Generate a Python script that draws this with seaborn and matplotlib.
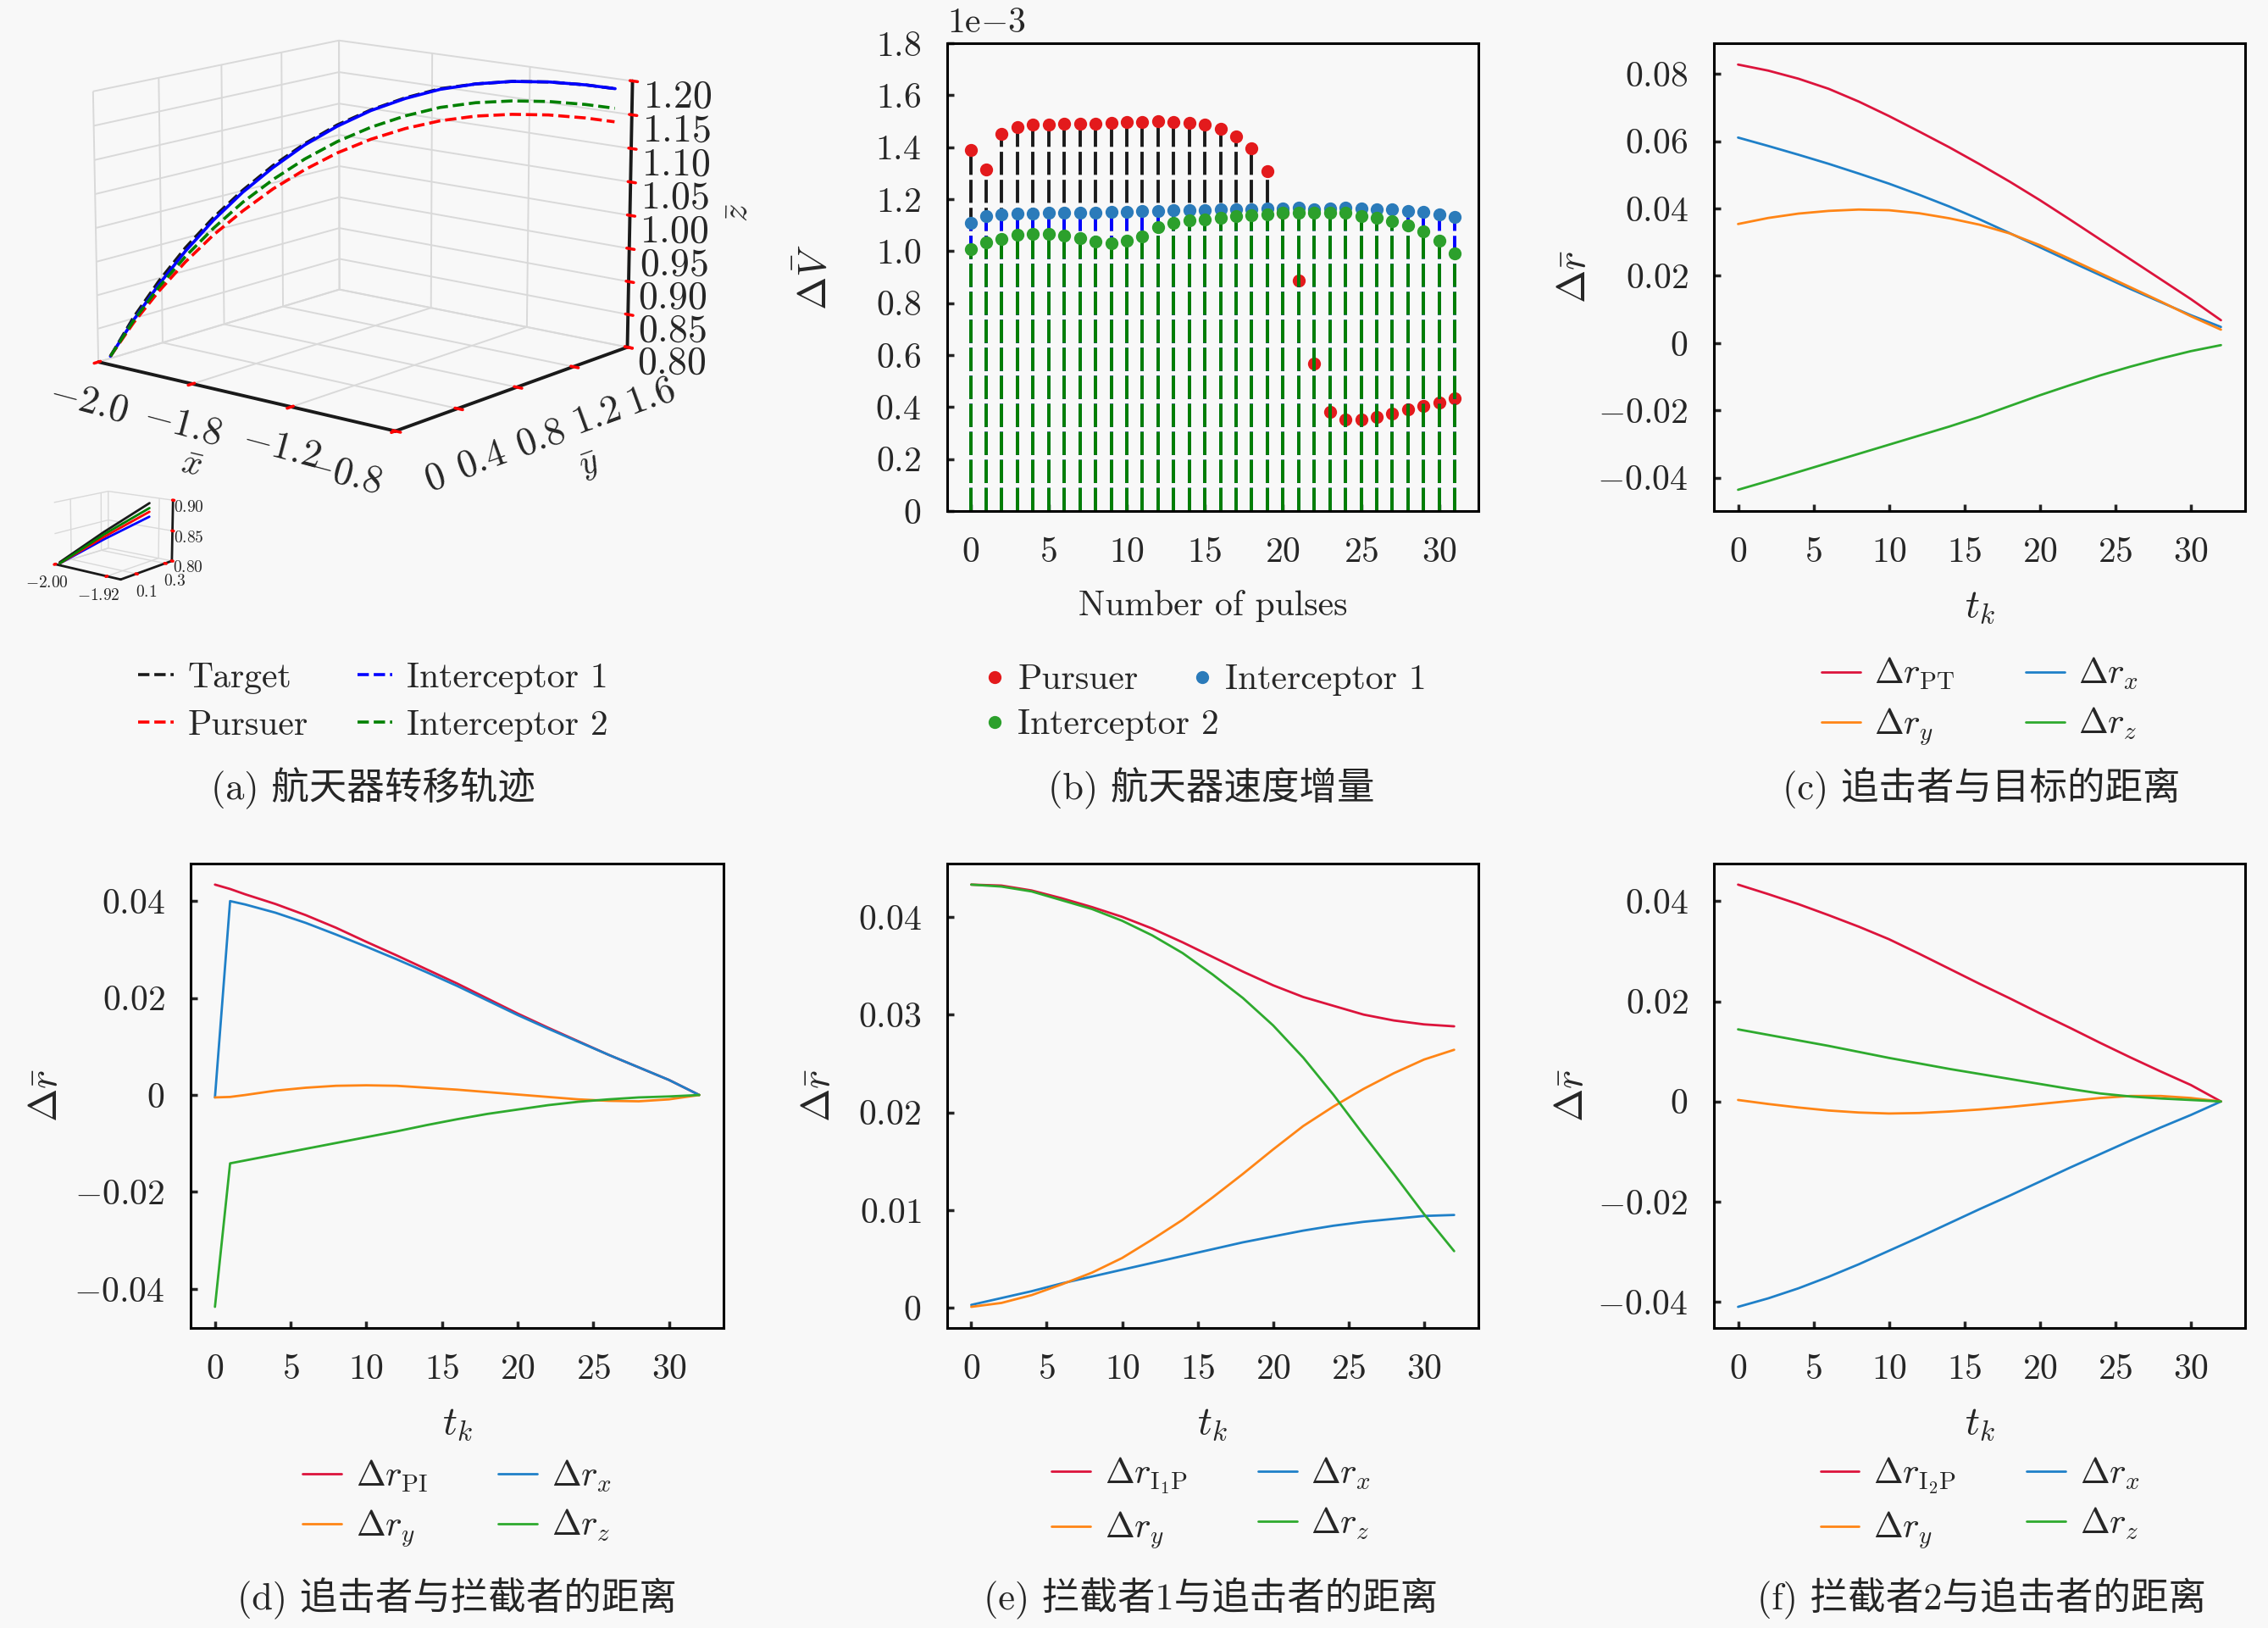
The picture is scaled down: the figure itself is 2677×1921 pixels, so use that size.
import numpy as np
import pandas as pd
import matplotlib
matplotlib.use('Agg')
import matplotlib.pyplot as plt
import matplotlib.colors as mcolors
from matplotlib.lines import Line2D
import seaborn as sns

traj_x = [-1.99, -1.964, -1.931, -1.890, -1.842, -1.788, -1.727, -1.660, -1.587,
          -1.507, -1.422, -1.333, -1.238, -1.139, -1.036, -0.930, -0.84]
traj_y = [0.06, 0.170, 0.282, 0.392, 0.501, 0.609, 0.714, 0.818, 0.918,
          1.015, 1.108, 1.197, 1.282, 1.362, 1.437, 1.505, 1.55]
z_target = [0.805, 0.858, 0.907, 0.953, 0.995, 1.033, 1.068, 1.099, 1.126,
            1.148, 1.166, 1.180, 1.188, 1.193, 1.194, 1.192, 1.189]
z_int1 = [0.805, 0.854, 0.902, 0.948, 0.991, 1.030, 1.065, 1.097, 1.124,
          1.147, 1.165, 1.179, 1.188, 1.193, 1.194, 1.192, 1.189]
z_pursuer = [0.805, 0.850, 0.892, 0.932, 0.969, 1.002, 1.033, 1.060, 1.084,
             1.104, 1.120, 1.132, 1.140, 1.144, 1.145, 1.143, 1.140]
z_int2 = [0.805, 0.853, 0.898, 0.940, 0.979, 1.015, 1.047, 1.076, 1.101,
          1.122, 1.139, 1.152, 1.160, 1.164, 1.165, 1.163, 1.160]

# zoomed inset near the start
ins_x = [-1.998, -1.960, -1.920]
ins_y = [0.02, 0.15, 0.28]
ins_z_target = [0.802, 0.850, 0.896]
ins_z_int1 = [0.800, 0.838, 0.874]
ins_z_pursuer = [0.800, 0.842, 0.882]
ins_z_int2 = [0.800, 0.846, 0.888]

x3_ticks = [-2.0, -1.6, -1.2, -0.8]
x3_labels = ['$-2.0$', '$-1.8$', '$-1.2$', '$-0.8$']
y3_ticks = [0, 0.4, 0.8, 1.2, 1.6]
y3_labels = ['$0$', '$0.4$', '$0.8$', '$1.2$', '$1.6$']
z3_ticks = [0.80, 0.85, 0.90, 0.95, 1.00, 1.05, 1.10, 1.15, 1.20]
z3_labels = ['$%.2f$' % v for v in z3_ticks]

# ---------------- (b) velocity increments (x 1e-3) ----------------
pulse_idx = list(range(32))
dv_pursuer = [1.389, 1.314, 1.450, 1.477, 1.488, 1.488, 1.492, 1.492, 1.492, 1.495,
              1.497, 1.497, 1.500, 1.497, 1.495, 1.488, 1.470, 1.443, 1.396, 1.308,
              1.148, 0.888, 0.569, 0.383, 0.352, 0.352, 0.363, 0.375, 0.393, 0.406,
              0.416, 0.434]
dv_int1 = [1.108, 1.134, 1.142, 1.145, 1.145, 1.148, 1.148, 1.148, 1.148, 1.150,
           1.152, 1.153, 1.154, 1.159, 1.159, 1.159, 1.161, 1.161, 1.161, 1.165,
           1.164, 1.167, 1.161, 1.164, 1.167, 1.163, 1.161, 1.160, 1.154, 1.150,
           1.140, 1.131]
dv_int2 = [1.007, 1.034, 1.047, 1.064, 1.066, 1.066, 1.061, 1.050, 1.037, 1.030,
           1.039, 1.057, 1.091, 1.108, 1.118, 1.122, 1.129, 1.134, 1.138, 1.142,
           1.148, 1.148, 1.148, 1.149, 1.148, 1.136, 1.129, 1.114, 1.098, 1.077,
           1.039, 0.993]
dv_ticks = [0, 0.2, 0.4, 0.6, 0.8, 1.0, 1.2, 1.4, 1.6, 1.8]
dv_labels = ['$0$', '$0.2$', '$0.4$', '$0.6$', '$0.8$', '$1.0$', '$1.2$', '$1.4$', '$1.6$', '$1.8$']

# ---------------- distance panels ----------------
t_even = [0, 2, 4, 6, 8, 10, 12, 14, 16, 18, 20, 22, 24, 26, 28, 30, 32]

# (c) pursuer - target
c_pt = [0.0828, 0.0810, 0.0786, 0.0756, 0.0718, 0.0675, 0.0629, 0.0582, 0.0532,
        0.0480, 0.0425, 0.0367, 0.0308, 0.0249, 0.0190, 0.0131, 0.0068]
c_x = [0.0611, 0.0586, 0.0560, 0.0533, 0.0504, 0.0474, 0.0441, 0.0406, 0.0368,
       0.0327, 0.0285, 0.0243, 0.0202, 0.0161, 0.0122, 0.0083, 0.0048]
c_y = [0.0354, 0.0372, 0.0385, 0.0393, 0.0397, 0.0395, 0.0386, 0.0371, 0.0352,
       0.0326, 0.0291, 0.0250, 0.0208, 0.0166, 0.0124, 0.0080, 0.0040]
c_z = [-0.0436, -0.0410, -0.0383, -0.0356, -0.0329, -0.0302, -0.0275, -0.0248, -0.0219,
       -0.0187, -0.0155, -0.0125, -0.0096, -0.0070, -0.0046, -0.0024, -0.0006]

# (d) pursuer - interceptor
t_d = [0, 1, 2, 4, 6, 8, 10, 12, 14, 16, 18, 20, 22, 24, 26, 28, 30, 32]
d_pi = [0.0434, 0.0425, 0.0414, 0.0394, 0.0371, 0.0345, 0.0316, 0.0288, 0.0259,
        0.0230, 0.0199, 0.0168, 0.0139, 0.0111, 0.0083, 0.0057, 0.0031, 0.0]
d_x = [-0.0005, 0.0400, 0.0393, 0.0376, 0.0355, 0.0331, 0.0306, 0.0280, 0.0253,
       0.0225, 0.0195, 0.0165, 0.0137, 0.0110, 0.0083, 0.0057, 0.0031, 0.0]
d_y = [-0.0005, -0.0004, 0.0000, 0.0009, 0.0015, 0.0019, 0.0020, 0.0019, 0.0015,
       0.0011, 0.0006, 0.0001, -0.0004, -0.0009, -0.0012, -0.0013, -0.0009, 0.0]
d_z = [-0.0437, -0.0141, -0.0135, -0.0123, -0.0111, -0.0099, -0.0087, -0.0075, -0.0062,
       -0.0050, -0.0039, -0.0030, -0.0021, -0.0014, -0.0009, -0.0005, -0.0003, 0.0]

# (e) interceptor 1 - pursuer
e_ip = [0.0433, 0.0432, 0.0427, 0.0419, 0.0410, 0.0400, 0.0388, 0.0374, 0.0359,
        0.0344, 0.0330, 0.0318, 0.0309, 0.0300, 0.0294, 0.0290, 0.0288]
e_x = [0.0003, 0.0010, 0.0017, 0.0025, 0.0032, 0.0039, 0.0046, 0.0053, 0.0060,
       0.0067, 0.0073, 0.0079, 0.0084, 0.0088, 0.0091, 0.0094, 0.0095]
e_y = [0.0001, 0.0005, 0.0013, 0.0024, 0.0036, 0.0051, 0.0070, 0.0090, 0.0113,
       0.0137, 0.0162, 0.0186, 0.0206, 0.0224, 0.0240, 0.0254, 0.0264]
e_z = [0.0433, 0.0431, 0.0426, 0.0417, 0.0408, 0.0396, 0.0381, 0.0363, 0.0341,
       0.0317, 0.0289, 0.0256, 0.0218, 0.0177, 0.0137, 0.0096, 0.0058]

# (f) interceptor 2 - pursuer
f_ip = [0.0433, 0.0414, 0.0394, 0.0372, 0.0349, 0.0324, 0.0295, 0.0265, 0.0235,
        0.0206, 0.0176, 0.0147, 0.0117, 0.0088, 0.0060, 0.0033, 0.0]
f_x = [-0.0410, -0.0393, -0.0373, -0.0350, -0.0325, -0.0298, -0.0271, -0.0243, -0.0215,
       -0.0188, -0.0160, -0.0132, -0.0105, -0.0078, -0.0052, -0.0027, 0.0]
f_y = [0.0003, -0.0005, -0.0012, -0.0018, -0.0022, -0.0024, -0.0023, -0.0020, -0.0016,
       -0.0011, -0.0005, 0.0001, 0.0007, 0.0011, 0.0011, 0.0007, 0.0]
f_z = [0.0144, 0.0133, 0.0122, 0.0111, 0.0099, 0.0087, 0.0076, 0.0065, 0.0055,
       0.0045, 0.0035, 0.0025, 0.0016, 0.0010, 0.0006, 0.0003, 0.0]

t_ticks = [0, 5, 10, 15, 20, 25, 30]
t_labels = ['$%d$' % v for v in t_ticks]
c_ticks = [-0.04, -0.02, 0, 0.02, 0.04, 0.06, 0.08]
c_labels = ['$-0.04$', '$-0.02$', '$0$', '$0.02$', '$0.04$', '$0.06$', '$0.08$']
d_ticks = [-0.04, -0.02, 0, 0.02, 0.04]
d_labels = ['$-0.04$', '$-0.02$', '$0$', '$0.02$', '$0.04$']
e_ticks = [0, 0.01, 0.02, 0.03, 0.04]
e_labels = ['$0$', '$0.01$', '$0.02$', '$0.03$', '$0.04$']

captions = ['(a) 航天器转移轨迹', '(b) 航天器速度增量', '(c) 追击者与目标的距离',
            '(d) 追击者与拦截者的距离', '(e) 拦截者1与追击者的距离', '(f) 拦截者2与追击者的距离']

# ---------------- style ----------------
BG = '#f8f8f8'
RED, BLUE, ORANGE, GREEN = '#dc143c', '#1f80c8', '#ff8516', '#2eaa2e'
PURE_B, PURE_R, PURE_G = '#0000ff', '#ff0000', '#008000'

sns.set_theme(style='ticks')
plt.rcParams['font.family'] = ['cmr10', 'Noto Sans CJK SC', 'DejaVu Sans']
plt.rcParams['mathtext.fontset'] = 'cm'
plt.rcParams['axes.formatter.use_mathtext'] = True
plt.rcParams['figure.facecolor'] = BG
plt.rcParams['axes.facecolor'] = BG
plt.rcParams['axes.edgecolor'] = 'black'
plt.rcParams['axes.linewidth'] = 1.1
plt.rcParams['xtick.direction'] = 'in'
plt.rcParams['ytick.direction'] = 'in'
plt.rcParams['xtick.major.size'] = 3
plt.rcParams['ytick.major.size'] = 3
plt.rcParams['xtick.major.pad'] = 11
plt.rcParams['ytick.major.pad'] = 11
plt.rcParams['font.size'] = 15
plt.rcParams['xtick.labelsize'] = 15
plt.rcParams['ytick.labelsize'] = 15
plt.rcParams['axes.labelsize'] = 15
plt.rcParams['legend.fontsize'] = 15

fig = plt.figure(figsize=(13.385, 9.605), dpi=200)

# ---------------- (a) 3D trajectories ----------------
ax3 = fig.add_axes([0.0, 0.679, 0.315, 0.36], projection='3d')
ax3.plot(traj_x, traj_y, z_target, color='k', ls='--', lw=1.3)
ax3.plot(traj_x, traj_y, z_int1, color=PURE_B, ls='-', lw=1.3)
ax3.plot(traj_x, traj_y, z_pursuer, color=PURE_R, ls='--', lw=1.3)
ax3.plot(traj_x, traj_y, z_int2, color=PURE_G, ls='--', lw=1.3)
ax3.set_xlim(-2.0, -0.8)
ax3.set_ylim(0, 1.6)
ax3.set_zlim(0.8, 1.2)
ax3.set_box_aspect((4, 4, 2.9))
ax3.view_init(elev=13, azim=-51)
ax3.set_xticks(x3_ticks)
ax3.set_xticklabels(x3_labels, fontsize=16.5, rotation=-15)
ax3.set_yticks(y3_ticks)
ax3.set_yticklabels(y3_labels, fontsize=16.5, rotation=20)
ax3.get_xticklabels()[-1].set_horizontalalignment('right')
ax3.get_yticklabels()[0].set_horizontalalignment('left')
ax3.set_zticks(z3_ticks)
ax3.set_zticklabels(z3_labels, fontsize=16.5)
ax3.zaxis.set_ticks_position('upper')
ax3.zaxis.set_label_position('upper')
ax3.set_xlabel(r'$\bar{x}$', fontsize=15, labelpad=4)
ax3.set_ylabel(r'$\bar{y}$', fontsize=15, labelpad=9)
ax3.set_zlabel(r'$\bar{z}$', fontsize=15, labelpad=6)
bg_rgba = mcolors.to_rgba(BG)
for axis in (ax3.xaxis, ax3.yaxis, ax3.zaxis):
    axis.set_pane_color(bg_rgba)
    axis._axinfo['grid']['color'] = (0.85, 0.85, 0.85, 1.0)
    axis._axinfo['grid']['linewidth'] = 0.7
    axis.line.set_color('k')
    axis.line.set_linewidth(1.4)
ax3.tick_params(axis='x', color='red', pad=-3)
ax3.tick_params(axis='y', color='red', pad=2)
ax3.tick_params(axis='z', color='red', pad=3)

# inset
axi = fig.add_axes([0.012, 0.632, 0.075, 0.08], projection='3d')
axi.plot(ins_x, ins_y, ins_z_target, color='k', lw=1.0)
axi.plot(ins_x, ins_y, ins_z_int1, color=PURE_B, lw=1.0)
axi.plot(ins_x, ins_y, ins_z_pursuer, color=PURE_R, lw=1.0)
axi.plot(ins_x, ins_y, ins_z_int2, color=PURE_G, lw=1.0)
axi.set_xlim(-2.0, -1.9)
axi.set_ylim(0.0, 0.35)
axi.set_zlim(0.8, 0.9)
axi.view_init(elev=13, azim=-51)
axi.set_xticks([-2.0, -1.92])
axi.set_xticklabels(['$-2.00$', '$-1.92$'], fontsize=7)
axi.set_yticks([0.1, 0.3])
axi.set_yticklabels(['$0.1$', '$0.3$'], fontsize=7)
axi.set_zticks([0.8, 0.85, 0.9])
axi.set_zticklabels(['$0.80$', '$0.85$', '$0.90$'], fontsize=7)
axi.zaxis.set_ticks_position('upper')
for axis in (axi.xaxis, axi.yaxis, axi.zaxis):
    axis.set_pane_color(bg_rgba)
    axis._axinfo['grid']['color'] = (0.85, 0.85, 0.85, 1.0)
    axis._axinfo['grid']['linewidth'] = 0.5
    axis.line.set_color('k')
    axis.line.set_linewidth(1.0)
axi.tick_params(axis='both', color='red', pad=-4)

leg_a = [Line2D([], [], color='k', ls='--', lw=1.3),
         Line2D([], [], color=PURE_R, ls='--', lw=1.3),
         Line2D([], [], color=PURE_B, ls='--', lw=1.3),
         Line2D([], [], color=PURE_G, ls='--', lw=1.3)]
fig.legend(leg_a, ['Target', 'Pursuer', 'Interceptor 1', 'Interceptor 2'],
           loc='center', bbox_to_anchor=(0.1645, 0.569), ncol=2, frameon=False,
           handlelength=1.0, handletextpad=0.4, columnspacing=1.4, labelspacing=0.45)

# ---------------- (b) stem plot ----------------
axb = fig.add_axes([0.4176, 0.6861, 0.2342, 0.2873])
for vals, col, lcol in [(dv_pursuer, '#e31a1c', 'k'), (dv_int1, '#2b7bba', PURE_B),
                        (dv_int2, '#2ca02c', PURE_G)]:
    ml, sl, bl = axb.stem(pulse_idx, vals, basefmt='-')
    ml.set_color(col)
    ml.set_markersize(4.5)
    sl.set_color(lcol)
    sl.set_linewidth(1.4)
    sl.set_linestyle((0, (7, 1.5)))
    bl.set_color('#cc0000')
    bl.set_linewidth(1.0)
axb.set_xlim(-1.5, 32.5)
axb.set_ylim(0, 1.8)
axb.set_yticks(dv_ticks)
axb.set_yticklabels(dv_labels)
axb.set_xticks(t_ticks)
axb.set_xticklabels(t_labels)
axb.tick_params(top=False, right=False)
axb.set_xlabel('Number of pulses', labelpad=9)
axb.set_ylabel(r'$\Delta\bar{V}$', fontsize=17, labelpad=18)
axb.text(0.0, 1.01, r'1e$-$3', transform=axb.transAxes, ha='left', va='bottom', fontsize=15)
mk = dict(marker='o', ls='', markersize=4.5)
fig.legend([Line2D([], [], color='#e31a1c', **mk), Line2D([], [], color='#2b7bba', **mk)],
           ['Pursuer', 'Interceptor 1'], loc='center left', bbox_to_anchor=(0.434, 0.5822),
           ncol=2, frameon=False, handlelength=0.6, handletextpad=0.35,
           columnspacing=1.5, borderpad=0, borderaxespad=0)
fig.legend([Line2D([], [], color='#2ca02c', **mk)], ['Interceptor 2'], loc='center left',
           bbox_to_anchor=(0.434, 0.5547), frameon=False, handlelength=0.6,
           handletextpad=0.35, borderpad=0, borderaxespad=0)


# ---------------- line panels ----------------
def line_panel(rect, t, series, labels, yticks, ylabels, leg_x, leg_y, ypad):
    ax = fig.add_axes(rect)
    colors = [RED, BLUE, ORANGE, GREEN]
    for vals, lab, col in zip(series, labels, colors):
        sns.lineplot(x=t, y=vals, ax=ax, color=col, linewidth=1.0, label=lab, legend=False)
    ax.set_xticks(t_ticks)
    ax.set_xticklabels(t_labels)
    ax.set_yticks(yticks)
    ax.set_yticklabels(ylabels)
    ax.tick_params(top=False, right=False)
    ax.set_xlabel(r'$t_k$', fontsize=17, labelpad=9)
    ax.set_ylabel(r'$\Delta\bar{r}$', fontsize=17, labelpad=ypad)
    lines = ax.get_lines()
    order = [0, 2, 1, 3]
    fig.legend([lines[i] for i in order], [labels[i] for i in order], loc='center',
               bbox_to_anchor=(leg_x, leg_y), ncol=2, frameon=False, handlelength=1.1,
               handletextpad=0.4, columnspacing=2.0, labelspacing=0.4)
    return ax


lab_x, lab_y, lab_z = r'$\Delta r_x$', r'$\Delta r_y$', r'$\Delta r_z$'
line_panel([0.7557, 0.6861, 0.2342, 0.2873], t_even, [c_pt, c_x, c_y, c_z],
           [r'$\Delta r_{\mathrm{PT}}$', lab_x, lab_y, lab_z], c_ticks, c_labels, 0.873, 0.569, 2)
line_panel([0.0841, 0.1843, 0.2349, 0.2853], t_d, [d_pi, d_x, d_y, d_z],
           [r'$\Delta r_{\mathrm{PI}}$', lab_x, lab_y, lab_z], d_ticks, d_labels, 0.2015, 0.0764, 4)
line_panel([0.4176, 0.1843, 0.2342, 0.2853], t_even, [e_ip, e_x, e_y, e_z],
           [r'$\Delta r_{\mathrm{I_1P}}$', lab_x, lab_y, lab_z], e_ticks, e_labels, 0.534, 0.0764, 9)
line_panel([0.7557, 0.1843, 0.2342, 0.2853], t_even, [f_ip, f_x, f_y, f_z],
           [r'$\Delta r_{\mathrm{I_2P}}$', lab_x, lab_y, lab_z], d_ticks, d_labels, 0.873, 0.0764, 3)

# ---------------- captions ----------------
cap_pos = [(0.1645, 0.5156), (0.534, 0.5156), (0.8737, 0.5156),
           (0.2015, 0.0178), (0.534, 0.0178), (0.8737, 0.0178)]
for (cx, cy), txt in zip(cap_pos, captions):
    fig.text(cx, cy, txt, ha='center', va='center', fontsize=16)

fig.savefig('out.png', dpi=200, facecolor=fig.get_facecolor())
